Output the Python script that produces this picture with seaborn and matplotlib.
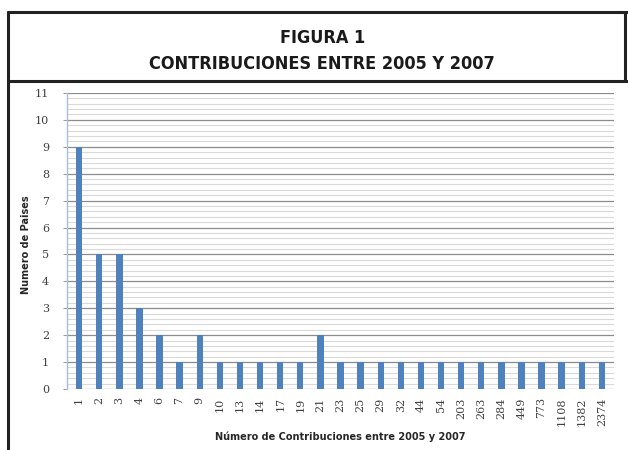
import matplotlib
matplotlib.use("Agg")
import matplotlib.pyplot as plt
import numpy as np
import pandas as pd
import seaborn as sns
from matplotlib.lines import Line2D

# data
contribuciones = ["1", "2", "3", "4", "6", "7", "9", "10", "13", "14", "17", "19", "21",
                  "23", "25", "29", "32", "44", "54", "203", "263", "284", "449", "773",
                  "1108", "1382", "2374"]
paises = [9, 5, 5, 3, 2, 1, 2, 1, 1, 1, 1, 1, 2,
          1, 1, 1, 1, 1, 1, 1, 1, 1, 1, 1, 1, 1, 1]

df = pd.DataFrame({"contribuciones": contribuciones, "paises": paises})

sns.set_style("white")
fig = plt.figure(figsize=(6.28, 4.5), dpi=100)
ax = fig.add_axes([0.1067, 0.1356, 0.871, 0.6578])

# minor grid lines (light) and major grid lines
for y in np.arange(0, 11.01, 0.2):
    if abs(y - round(y)) < 1e-6:
        ax.axhline(y, color="#8c8c8c", lw=0.9, zorder=0)
    else:
        ax.axhline(y, color="#d9d9d9", lw=0.8, zorder=0)

sns.barplot(data=df, x="contribuciones", y="paises", color="#4F81BD",
            width=0.32, saturation=1, ax=ax, zorder=3, linewidth=0)

ax.set_ylim(0, 11)
ax.set_xlim(-0.6, len(contribuciones) - 0.4)
ax.set_yticks(range(0, 12))
ax.tick_params(axis="y", labelsize=8, labelcolor="#404040", length=3, width=0.6,
               color="#8c8c8c", pad=10, left=True)
ax.tick_params(axis="x", labelsize=8, labelcolor="#404040", length=0, pad=6,
               labelrotation=90)
for lab in ax.get_xticklabels() + ax.get_yticklabels():
    lab.set_family("DejaVu Serif")

for s in ["top", "right", "bottom"]:
    ax.spines[s].set_visible(False)
ax.spines["left"].set_color("#a6bddb")
ax.spines["left"].set_linewidth(1.0)

ax.set_xlabel("Número de Contribuciones entre 2005 y 2007", fontsize=7,
              fontweight="bold")
ax.set_ylabel("Numero de Paises", fontsize=7, fontweight="bold")
ax.xaxis.set_label_coords(0.5, -0.145)
ax.yaxis.set_label_coords(-0.066, 0.486)

# frame around the figure
fig.add_artist(Line2D([8 / 628, 8 / 628], [0, 1 - 12 / 450], color="#222222", lw=2.2))
fig.add_artist(Line2D([8 / 628, 1], [1 - 12 / 450, 1 - 12 / 450], color="#222222", lw=2.2))
fig.add_artist(Line2D([8 / 628, 1], [1 - 81 / 450, 1 - 81 / 450], color="#222222", lw=2.2))
fig.add_artist(Line2D([625 / 628, 625 / 628], [1 - 81 / 450, 1 - 12 / 450], color="#222222", lw=2.2))

fig.text(0.513, 1 - 38 / 450, "FIGURA 1", ha="center", va="center", fontsize=13,
         fontweight="bold", fontstretch="condensed", family="DejaVu Sans", color="#1a1a1a")
fig.text(0.513, 1 - 64 / 450, "CONTRIBUCIONES ENTRE 2005 Y 2007", ha="center",
         va="center", fontsize=13, fontweight="bold", fontstretch="condensed",
         family="DejaVu Sans", color="#1a1a1a")

fig.savefig("out.png", dpi=100)
